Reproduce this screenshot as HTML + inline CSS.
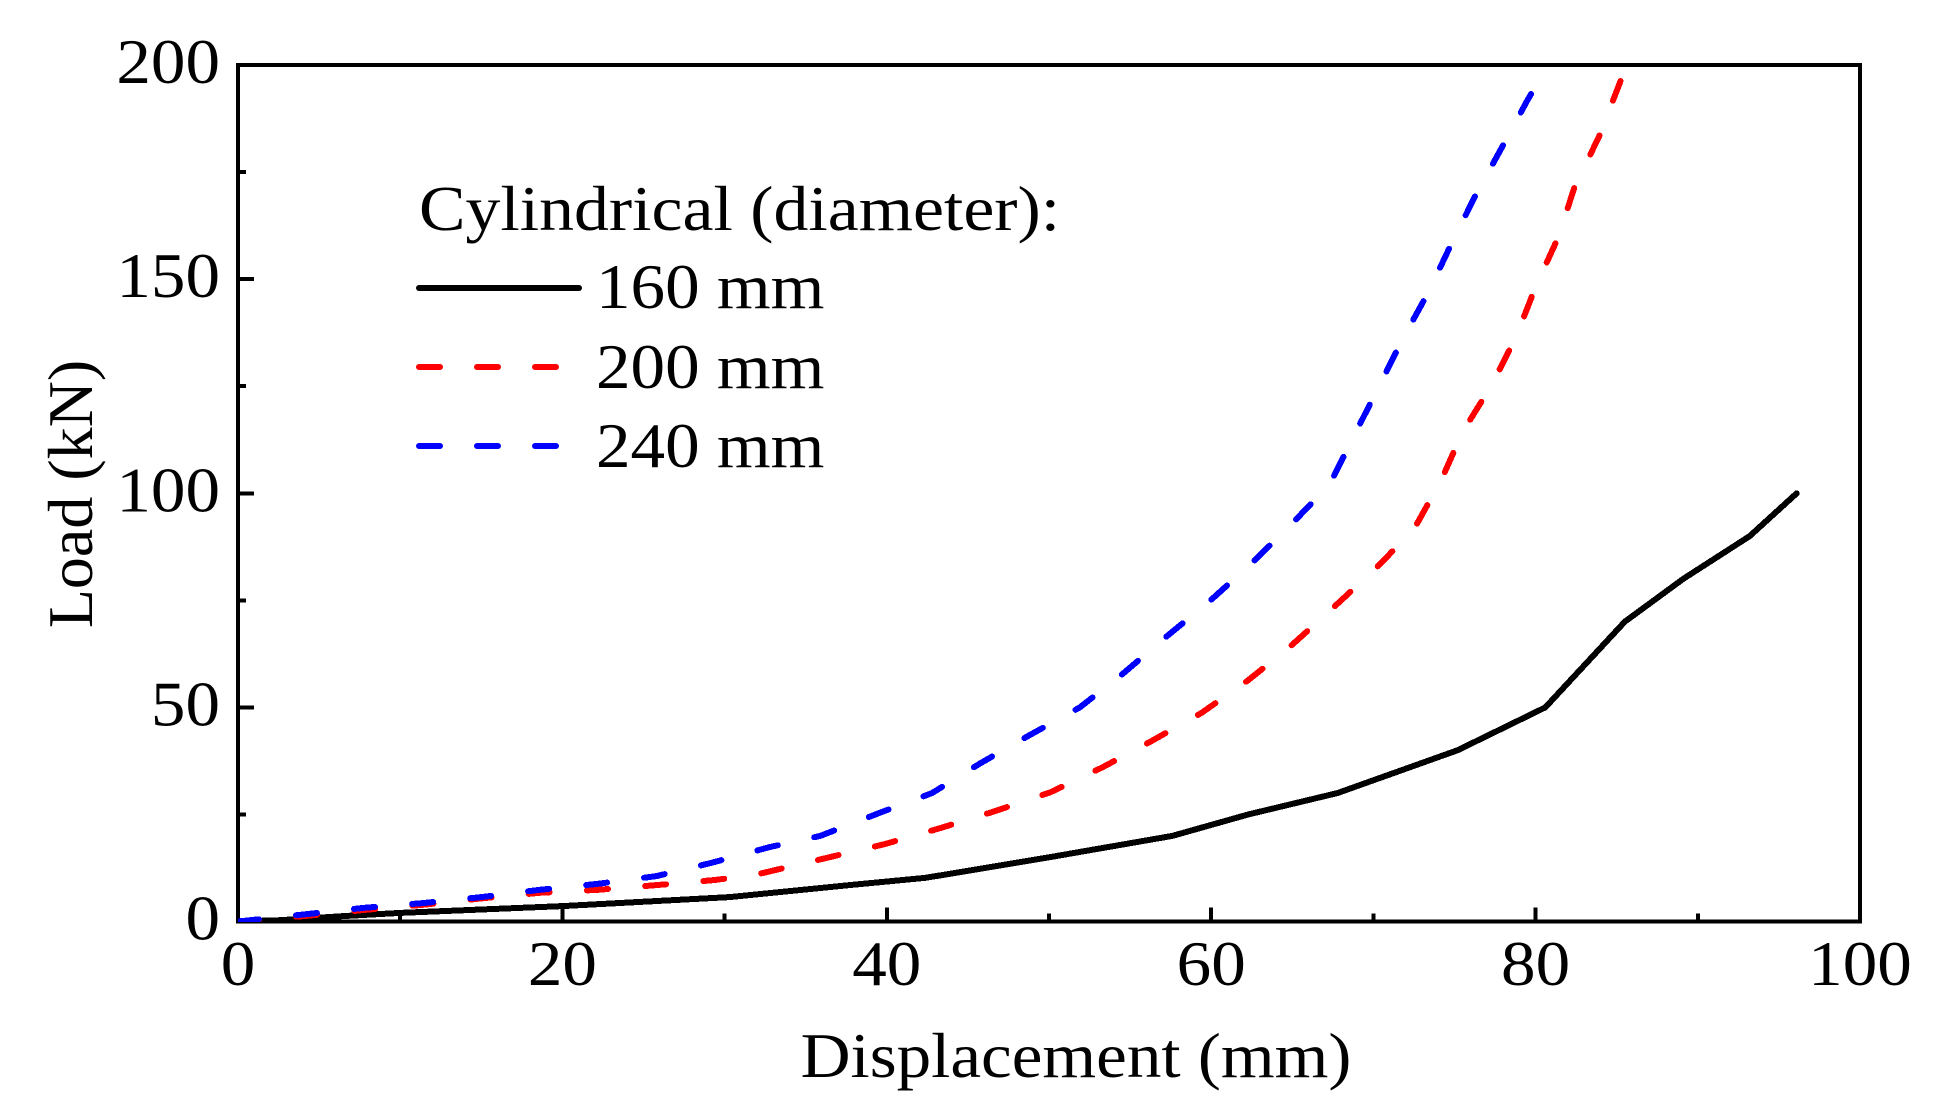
<!DOCTYPE html>
<html>
<head>
<meta charset="utf-8">
<title>Load vs Displacement</title>
<style>
html,body{margin:0;padding:0;background:#fff;}
svg{display:block;}
text{font-family:"Liberation Serif",serif;font-size:64px;fill:#000;}
</style>
</head>
<body>
<svg id="chart" xmlns="http://www.w3.org/2000/svg" width="1945" height="1113" viewBox="0 0 1945 1113">
  <defs><clipPath id="plot-clip"><rect x="238" y="65" width="1622" height="857"/></clipPath></defs>
  <rect x="0" y="0" width="1945" height="1113" fill="#fff"/>
  <g id="axes"></g>
  <g id="series"></g>
  <text text-anchor="middle" transform="translate(1076,1077) scale(1.08,1)">Displacement (mm)</text>
  <text text-anchor="middle" transform="translate(92,494) rotate(-90)">Load (kN)</text>
  <g>
    <text transform="translate(419,230) scale(1.09,1)">Cylindrical (diameter):</text>
    <line x1="419" y1="288" x2="579" y2="288" stroke="#000" stroke-width="6" stroke-linecap="round"/>
    <text transform="translate(596,308) scale(1.08,1)">160 mm</text>
    <line x1="419" y1="367" x2="558" y2="367" stroke="#f00" stroke-width="6" stroke-linecap="round" stroke-dasharray="21 37"/>
    <text transform="translate(596,388) scale(1.08,1)">200 mm</text>
    <line x1="419" y1="446" x2="558" y2="446" stroke="#00f" stroke-width="6" stroke-linecap="round" stroke-dasharray="21 37"/>
    <text transform="translate(596,467) scale(1.08,1)">240 mm</text>
  </g>
</svg>
<script>
const xTickLabels = [0, 20, 40, 60, 80, 100];
const yTickLabels = [0, 50, 100, 150, 200];
const xMinorTicks = [10, 30, 50, 70, 90];
const yMinorTicks = [25, 75, 125, 175];

const disp160 = [0, 2.6, 6.7, 10, 20, 30.3, 37.7, 42.4, 50, 57.6, 62.3, 67.8, 75.2, 80.6, 85.5, 89.1, 93.2, 96.1];
const load160 = [0, 0.3, 1.3, 2, 3.6, 5.7, 8.5, 10.2, 15, 20, 25, 30, 40, 50, 70, 80, 90, 100];

const disp200 = [0, 4.2, 7.8, 11.4, 15, 18.6, 22.2, 25.8, 29.4, 32, 35.9, 39.9, 43.3, 46.7, 50.1, 53.3, 56.3, 59.4, 62.3, 64.9, 67.5, 70.1, 72.5, 74.2, 75.5, 77.3, 78.8, 80, 81.4, 82.4, 83.9, 85.1, 85.6];
const load200 = [0, 1.3, 2.7, 3.9, 5.4, 6.7, 7.4, 8.5, 9.7, 11, 14.5, 18.1, 21.8, 25.8, 30.2, 36, 42.1, 48.7, 56.4, 64.3, 73.2, 82.3, 91.6, 103.2, 114.3, 125.3, 136.5, 148.2, 159.8, 171.5, 183.2, 194.9, 200];

const disp240 = [0, 4.2, 7.8, 11.4, 15, 18.6, 22.2, 25.8, 29.2, 32.8, 35.9, 39.5, 42.8, 45.7, 48.8, 51.9, 54.6, 57.2, 59.9, 62.5, 64.9, 67.3, 68.8, 70.3, 71.8, 73.4, 74.8, 76.3, 77.9, 79.5, 80];
const load240 = [0, 1.7, 3.2, 4.3, 5.7, 7.4, 8.8, 10.6, 13.7, 17.4, 20, 25.3, 30, 36.8, 43.5, 50, 58, 66.4, 74.8, 83.7, 92.6, 102, 113.4, 124.6, 136, 147, 158.2, 169.6, 180.6, 191.8, 195];

const NS = 'http://www.w3.org/2000/svg';
const X0 = 238, X1 = 1860, Y0 = 921.5, Y1 = 65;
function xScale(v) { return X0 + (v / 100) * (X1 - X0); }
function yScale(v) { return Y0 - (v / 200) * (Y0 - Y1); }

const axes = document.getElementById('axes');
const seriesGroup = document.getElementById('series');

function drawLine(x1, y1, x2, y2, w) {
  const l = document.createElementNS(NS, 'line');
  l.setAttribute('x1', x1);
  l.setAttribute('y1', y1);
  l.setAttribute('x2', x2);
  l.setAttribute('y2', y2);
  l.setAttribute('stroke', '#000');
  l.setAttribute('stroke-width', w);
  l.setAttribute('shape-rendering', 'crispEdges');
  axes.appendChild(l);
  return l;
}
function drawLabel(str, x, y, anchor) {
  const t = document.createElementNS(NS, 'text');
  t.textContent = str;
  t.setAttribute('text-anchor', anchor);
  t.setAttribute('transform', 'translate(' + x + ',' + y + ') scale(1.08,1)');
  axes.appendChild(t);
  return t;
}

const frame = document.createElementNS(NS, 'rect');


frame.setAttribute('x', X0);
frame.setAttribute('y', Y1);
frame.setAttribute('width', X1 - X0);
frame.setAttribute('height', Y0 - Y1);
frame.setAttribute('fill', 'none');
frame.setAttribute('stroke', '#000');
frame.setAttribute('stroke-width', 4);
frame.setAttribute('shape-rendering', 'crispEdges');
axes.appendChild(frame);

xTickLabels.forEach(function (v) {
  const tick = drawLine(xScale(v), Y0, xScale(v), Y0 - 14, 4);
  
  
  const label = drawLabel(String(v), xScale(v), 985, 'middle');
  
  
});
xMinorTicks.forEach(function (v) {
  const tick = drawLine(xScale(v), Y0, xScale(v), Y0 - 8, 4);
  
  
});
yTickLabels.forEach(function (v) {
  const tick = drawLine(X0, yScale(v), X0 + 16, yScale(v), 4);
  
  
  const label = drawLabel(String(v), 220, yScale(v) + 18, 'end');
  
  
});
yMinorTicks.forEach(function (v) {
  const tick = drawLine(X0, yScale(v), X0 + 8, yScale(v), 4);
  
  
});

function drawSeries(xs, ys, color, dash) {
  const p = document.createElementNS(NS, 'path');
  const d = xs.map(function (v, i) {
    return (i ? 'L' : 'M') + xScale(v).toFixed(1) + ' ' + yScale(ys[i]).toFixed(1);
  }).join(' ');
  p.setAttribute('d', d);
  p.setAttribute('fill', 'none');
  p.setAttribute('stroke', color);
  p.setAttribute('stroke-width', 6);
  p.setAttribute('stroke-linecap', 'round');
  p.setAttribute('stroke-linejoin', 'round');
  p.setAttribute('clip-path', 'url(#plot-clip)');
  p.setAttribute('shape-rendering', 'crispEdges');
  if (dash) p.setAttribute('stroke-dasharray', dash);
  seriesGroup.appendChild(p);
  return p;
}
const line160 = drawSeries(disp160, load160, '#000', null);


const line200 = drawSeries(disp200, load200, '#f00', '21 37.4');


const line240 = drawSeries(disp240, load240, '#00f', '21 37.35');


</script>
</body>
</html>
